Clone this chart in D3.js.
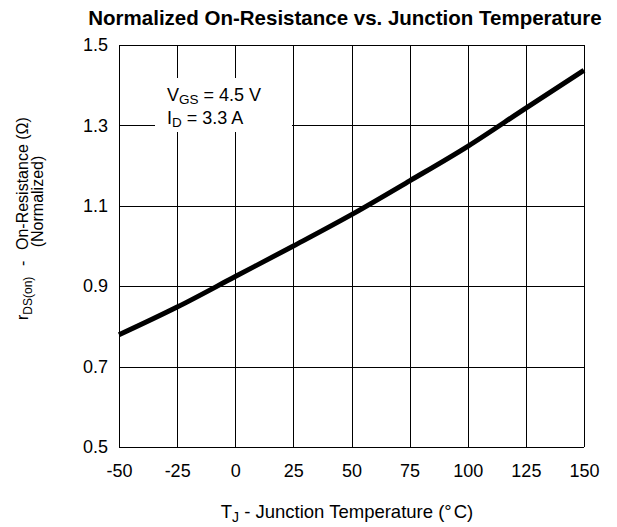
<!DOCTYPE html>
<html>
<head>
<meta charset="utf-8">
<script src="https://cdn.jsdelivr.net/npm/d3@7"></script>
<style>
  html, body { margin: 0; padding: 0; background: #fff; }
  svg { display: block; font-family: "Liberation Sans", Arial, sans-serif; }
</style>
</head>
<body>
<svg id="chart" width="617" height="527"></svg>
<script>
// Junction temperature (°C) and normalized on-resistance
const temps = [-50, -25, 0, 25, 50, 75, 100, 125, 150];
const rdsNorm = [0.779, 0.848, 0.924, 1.0, 1.078, 1.162, 1.248, 1.343, 1.437];
const xTicks = [-50, -25, 0, 25, 50, 75, 100, 125, 150];
const yTicks = [0.5, 0.7, 0.9, 1.1, 1.3, 1.5];

const svg = d3.select("#chart");
const plotL = 119, plotR = 584, plotT = 45, plotB = 447;

const x = d3.scaleLinear().domain([-50, 150]).range([plotL, plotR]);
const y = d3.scaleLinear().domain([0.5, 1.5]).range([plotB, plotT]);

// grid
const grid = svg.append("g").attr("stroke", "#000").attr("stroke-width", 1).attr("shape-rendering", "crispEdges");
grid.selectAll("line.v").data(xTicks).join("line").attr("class", "v")
  .attr("x1", d => Math.round(x(d)) + 0.5).attr("x2", d => Math.round(x(d)) + 0.5)
  .attr("y1", plotT).attr("y2", plotB);
grid.selectAll("line.h").data(yTicks).join("line").attr("class", "h")
  .attr("y1", d => Math.round(y(d)) + 0.5).attr("y2", d => Math.round(y(d)) + 0.5)
  .attr("x1", plotL).attr("x2", plotR);

// condition label on a white patch
svg.append("rect").attr("x", 155).attr("y", 78).attr("width", 137).attr("height", 54).attr("fill", "#fff");
const ann = svg.append("g").attr("font-size", 18).attr("fill", "#000");
const t1 = ann.append("text").attr("x", 167).attr("y", 101);
t1.append("tspan").text("V");
t1.append("tspan").attr("font-size", 13.5).attr("dy", 3).text("GS");
t1.append("tspan").attr("dy", -3).text(" = 4.5 V");
const t2 = ann.append("text").attr("x", 167).attr("y", 124);
t2.append("tspan").text("I");
t2.append("tspan").attr("font-size", 13.5).attr("dy", 3).text("D");
t2.append("tspan").attr("dy", -3).text(" = 3.3 A");

// curve
const line = d3.line().x((d, i) => x(temps[i])).y(d => y(d)).curve(d3.curveMonotoneX);
svg.append("path").datum(rdsNorm).attr("d", line)
  .attr("fill", "none").attr("stroke", "#000").attr("stroke-width", 5);

// axes (labels only)
const xAxis = d3.axisBottom(x).tickValues(xTicks).tickSize(0).tickPadding(17).tickFormat(d => String(d));
const gx = svg.append("g").attr("transform", `translate(0,${plotB})`).call(xAxis);
gx.select(".domain").remove();
gx.selectAll("text").attr("font-size", 18).attr("font-family", null).attr("fill", "#000");

const yAxis = d3.axisLeft(y).tickValues(yTicks).tickSize(0).tickPadding(11).tickFormat(d3.format(".1f"));
const gy = svg.append("g").attr("transform", `translate(${plotL},0)`).call(yAxis);
gy.select(".domain").remove();
gy.selectAll("text").attr("font-size", 18).attr("font-family", null).attr("fill", "#000");

// title
svg.append("text").attr("x", 345).attr("y", 25).attr("text-anchor", "middle")
  .attr("font-size", 20.5).attr("font-weight", "bold").text("Normalized On-Resistance vs. Junction Temperature");

// x title
const xt = svg.append("text").attr("x", 347).attr("y", 518).attr("text-anchor", "middle").attr("font-size", 18.5);
xt.append("tspan").text("T");
xt.append("tspan").attr("font-size", 14).attr("dy", 4).text("J");
xt.append("tspan").attr("dy", -4).text("  -  Junction Temperature (\u00B0");
xt.append("tspan").attr("dx", 2).text("C)");

// y title
const yt = svg.append("g").attr("transform", "translate(28,0) rotate(-90)").attr("font-size", 16);
const y1 = yt.append("text").attr("x", -320).attr("y", 0);
y1.append("tspan").text("r");
y1.append("tspan").attr("font-size", 12).attr("dy", 4).text("DS(on)");
y1.append("tspan").attr("dy", -4).attr("x", -266).text("-");
y1.append("tspan").attr("x", -250).text("On-Resistance (\u03A9)");
yt.append("text").attr("x", -201.5).attr("y", 15).attr("text-anchor", "middle").text("(Normalized)");
</script>
</body>
</html>
